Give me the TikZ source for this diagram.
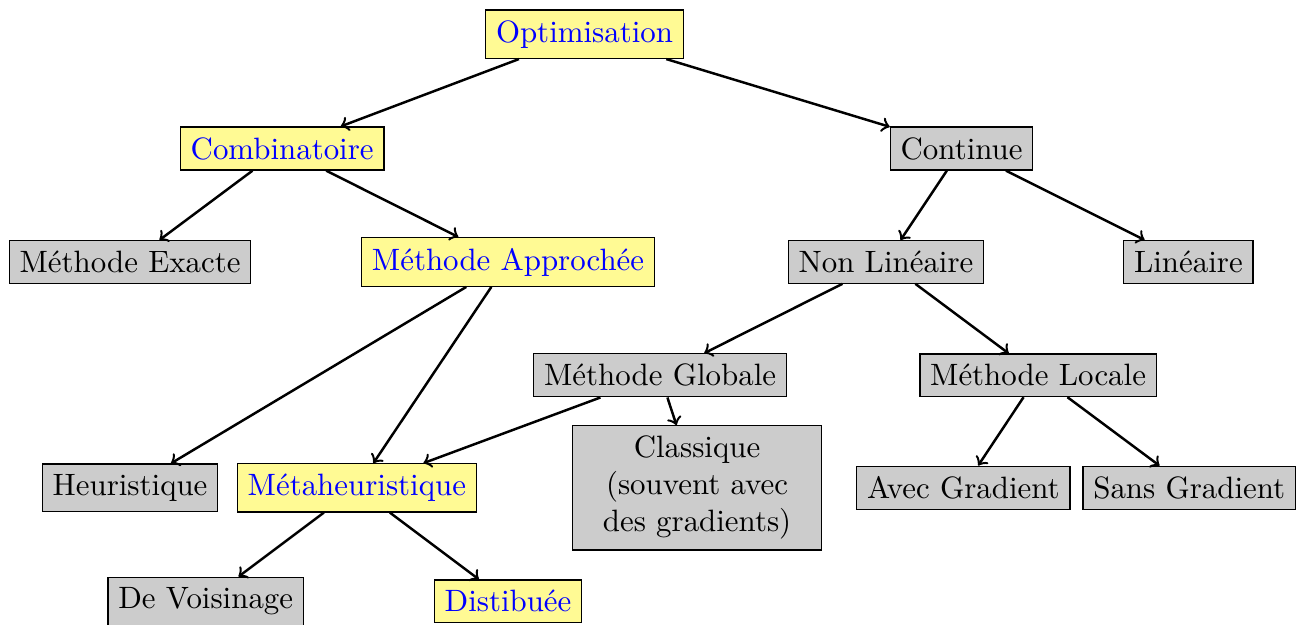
\documentclass[tikz,border=0pt]{standalone}
\usepackage{amsmath}
\usepackage{amssymb}
\usepackage{xcolor}
\usepackage{tikz}

\begin{document}
\begin{tikzpicture}[
        jaune/.style={draw, fill=yellow!42, text=blue},
        gris/.style={draw, fill=gray!40},
        fleche/.style={->, thick}
    ]
            \useasboundingbox (0,0) rectangle (14.79,-7.10);
            \node[jaune] (a1) at (6.65,-0.39) {Optimisation};
            \node[jaune] (a2) at (3.21,-1.69) {Combinatoire};
            \node[gris] (a3) at (10.94,-1.69) {Continue};
            \node[gris] (a4) at (1.48,-2.98) {M\'ethode Exacte};
            \node[jaune] (a5) at (5.78,-2.98) {M\'ethode Approch\'ee};
            \node[gris] (a6) at (10.08,-2.98) {Non Lin\'eaire};
            \node[gris] (a7) at (13.52,-2.98) {Lin\'eaire};
            \node[gris] (a8) at (7.51,-4.27) {M\'ethode Globale};
            \node[gris] (a9) at (11.81,-4.27) {M\'ethode Locale};
            \node[gris] (a10) at (1.48,-5.55) {Heuristique};
            \node[jaune] (a11) at (4.06,-5.55) {M\'etaheuristique};
            \node[gris, text width=2.6cm, align=center] (a12) at (7.93,-5.55) {Classique (souvent avec des gradients)};
            \node[gris] (a13) at (10.96,-5.55) {Avec Gradient};
            \node[gris] (a14) at (13.53,-5.55) {Sans Gradient};
            \node[gris] (a15) at (2.34,-6.84) {De Voisinage};
            \node[jaune] (a16) at (5.78,-6.84) {Distibu\'ee};

            \draw[fleche] (a1) -- (a2);
            \draw[fleche] (a1) -- (a3);
            \draw[fleche] (a2) -- (a4);
            \draw[fleche] (a2) -- (a5);
            \draw[fleche] (a3) -- (a6);
            \draw[fleche] (a3) -- (a7);
            \draw[fleche] (a5) -- (a10);
            \draw[fleche] (a5) -- (a11);
            \draw[fleche] (a6) -- (a8);
            \draw[fleche] (a6) -- (a9);
            \draw[fleche] (a8) -- (a11);
            \draw[fleche] (a8) -- (a12);
            \draw[fleche] (a9) -- (a13);
            \draw[fleche] (a9) -- (a14);
            \draw[fleche] (a11) -- (a15);
            \draw[fleche] (a11) -- (a16);
        \end{tikzpicture}
\end{document}
